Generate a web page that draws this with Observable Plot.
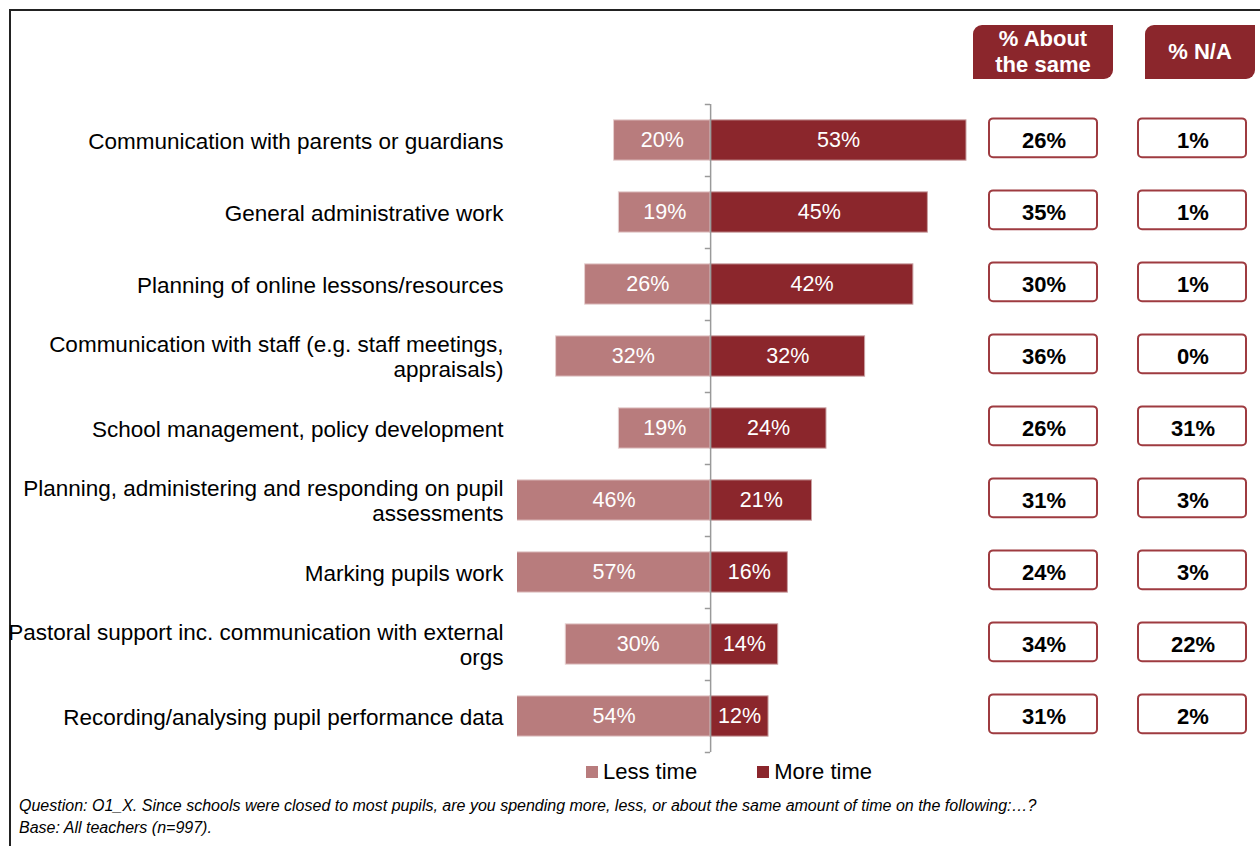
<!DOCTYPE html>
<html>
<head>
<meta charset="utf-8">
<script src="https://cdn.jsdelivr.net/npm/d3@7"></script>
<script src="https://cdn.jsdelivr.net/npm/@observablehq/plot@0.6"></script>
<style>
  html, body { margin: 0; padding: 0; background: #fff; }
  body { font-family: "Liberation Sans", Arial, sans-serif; }
  #wrap { position: relative; width: 1260px; height: 846px; overflow: hidden; background: #fff; }
  #frame { position: absolute; left: 9px; top: 9px; width: 1300px; height: 900px; border-left: 2px solid #222; border-top: 2px solid #222; box-sizing: border-box; }
  .abs { position: absolute; }
  .abs svg { max-width: none !important; }
  .hdr { position: absolute; top: 25px; height: 54px; background: #8b262c; color: #fff; font-weight: bold; font-size: 22px; line-height: 26px; display: flex; align-items: center; justify-content: center; text-align: center; border-radius: 9px 0 9px 0; }
  #legend { position: absolute; top: 759px; left: 586px; font-size: 22px; color: #000; display: flex; align-items: center; }
  #legend .sw { display: inline-block; width: 12px; height: 12px; margin-right: 5px; }
  #legend .item { display: flex; align-items: center; }
  #caption { position: absolute; left: 19px; top: 795px; font-size: 16px; font-style: italic; color: #000; line-height: 22px; }
</style>
</head>
<body>
<div id="wrap">
  <div id="frame"></div>
  <div id="main" class="abs" style="left:0;top:0;width:980px"></div>
  <div id="table" class="abs" style="left:969px;top:0;width:298px"></div>
  <div class="hdr" style="left:973px;width:140px">% About<br>the same</div>
  <div class="hdr" style="left:1145px;width:110px">% N/A</div>
  <div id="legend">
    <span class="item"><span class="sw" style="background:#b87c7d"></span>Less time</span>
    <span class="item" style="margin-left:60px"><span class="sw" style="background:#8b262c"></span>More time</span>
  </div>
  <div id="caption">Question: O1_X. Since schools were closed to most pupils, are you spending more, less, or about the same amount of time on the following:…?<br>Base: All teachers (n=997).</div>
</div>
<script>
const categories = [
  "Communication with parents or guardians",
  "General administrative work",
  "Planning of online lessons/resources",
  "Communication with staff (e.g. staff meetings,\nappraisals)",
  "School management, policy development",
  "Planning, administering and responding on pupil\nassessments",
  "Marking pupils work",
  "Pastoral support inc. communication with external\norgs",
  "Recording/analysing pupil performance data"
];
const lessTime = [20, 19, 26, 32, 19, 46, 57, 30, 54];
const moreTime = [53, 45, 42, 32, 24, 21, 16, 14, 12];
const aboutSame = [26, 35, 30, 36, 26, 31, 24, 34, 31];
const notApplicable = [1, 1, 1, 0, 31, 3, 3, 22, 2];
const tableColumns = ["% About the same", "% N/A"];

const LESS = "#b87c7d", MORE = "#8b262c", BOX = "#9e3b40";
const xMin = -40, xMax = 53;
const half = 0.28;
const font = "Liberation Sans, Arial, sans-serif";

const rows = categories.map((c, i) => ({
  i, c, less: lessTime[i], more: moreTime[i], same: aboutSame[i], na: notApplicable[i]
}));
const bounds = d3.range(categories.length + 1).map(k => k - 0.5);

const yScale = {type: "linear", domain: [-0.5, categories.length - 0.5], reverse: true};

const main = Plot.plot({
  width: 980, height: 846,
  marginLeft: 517, marginRight: 14, marginTop: 104, marginBottom: 94,
  style: {fontFamily: font, fontSize: "22px", background: "transparent", overflow: "visible"},
  x: {domain: [xMin, xMax], nice: false, axis: null},
  y: yScale,
  marks: [
    Plot.rect(rows, {x1: d => -d.less, x2: 0, y1: d => d.i - half, y2: d => d.i + half, fill: LESS, stroke: "#e6cfcf", strokeWidth: 1, clip: true}),
    Plot.rect(rows, {x1: 0, x2: d => d.more, y1: d => d.i - half, y2: d => d.i + half, fill: MORE, stroke: "#c9a0a2", strokeWidth: 1}),
    Plot.ruleX([0], {y1: -0.5, y2: categories.length - 0.5, stroke: "#9a9a9a", strokeWidth: 1.5}),
    Plot.ruleY(bounds, {x1: -1.1, x2: 0, stroke: "#9a9a9a", strokeWidth: 1.5}),
    Plot.text(rows, {x: d => -Math.min(d.less, -xMin) / 2, y: "i", text: d => d.less + "%", fill: "white", fontSize: 21.5}),
    Plot.text(rows, {x: d => d.more / 2, y: "i", text: d => d.more + "%", fill: "white", fontSize: 21.5}),
    Plot.axisY({ticks: d3.range(categories.length), tickFormat: i => categories[i], tickSize: 0, tickPadding: 14, fontSize: 22.5, fill: "#000", lineHeight: 1.12, label: null})
  ]
});
document.getElementById("main").appendChild(main);

const tableData = rows.flatMap(d => [
  {i: d.i, col: tableColumns[0], v: d.same},
  {i: d.i, col: tableColumns[1], v: d.na}
]);

const table = Plot.plot({
  width: 298, height: 846,
  marginLeft: 0, marginRight: 0, marginTop: 104, marginBottom: 94,
  style: {fontFamily: font, background: "transparent", overflow: "visible"},
  x: {type: "band", domain: tableColumns, padding: 0, axis: null},
  y: {...yScale, axis: null},
  marks: [
    Plot.barY(tableData, {x: "col", y1: d => d.i - 0.3, y2: d => d.i + 0.24, fill: "white", stroke: BOX, strokeWidth: 2, insetLeft: 20, insetRight: 21, rx: 4}),
    Plot.text(tableData, {x: "col", y: d => d.i, text: d => d.v + "%", fontWeight: "bold", fontSize: 22, fill: "#000"})
  ]
});
document.getElementById("table").appendChild(table);
</script>
</body>
</html>
